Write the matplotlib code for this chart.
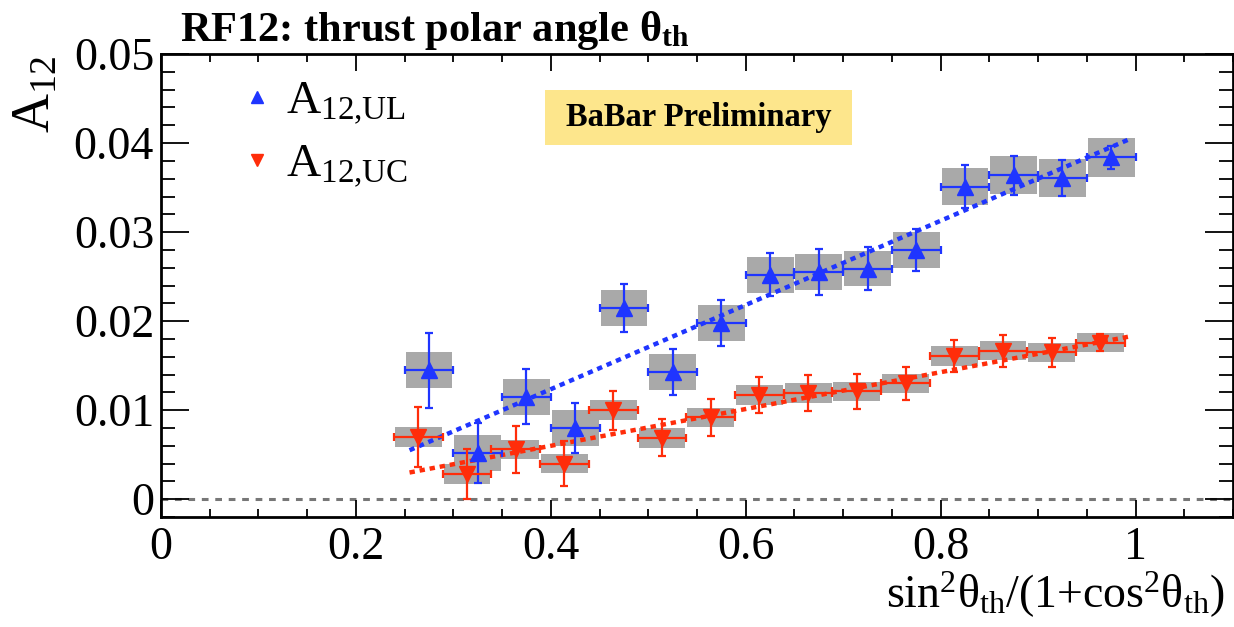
import matplotlib
matplotlib.use("Agg")
import matplotlib.pyplot as plt
from matplotlib.lines import Line2D
from matplotlib.patches import Rectangle
from matplotlib.ticker import MultipleLocator, FuncFormatter

plt.rcParams["font.family"] = ["Liberation Serif", "DejaVu Serif"]
plt.rcParams["mathtext.fontset"] = "custom"
plt.rcParams["mathtext.rm"] = "Liberation Serif"
plt.rcParams["mathtext.it"] = "Liberation Serif:italic"
plt.rcParams["mathtext.bf"] = "Liberation Serif:bold"

# --- data ---
ul_x = [0.275, 0.325, 0.375, 0.425, 0.475, 0.525, 0.575, 0.625,
        0.675, 0.725, 0.775, 0.825, 0.875, 0.925, 0.975]
ul_y = [0.0145, 0.0052, 0.0115, 0.0080, 0.0215, 0.0143, 0.0198, 0.0252,
        0.0255, 0.0259, 0.0280, 0.0351, 0.0364, 0.0361, 0.0384]
ul_stat = [0.0042, 0.0034, 0.0031, 0.0028, 0.0027, 0.0026, 0.0026, 0.0024,
           0.0026, 0.0024, 0.0024, 0.0024, 0.0022, 0.0020, 0.0013]
ul_syst = [0.0020, 0.0020, 0.0020, 0.0020, 0.0020, 0.0020, 0.0020, 0.0020,
           0.0020, 0.0020, 0.0020, 0.0021, 0.0021, 0.0021, 0.0022]

uc_x = [0.264, 0.314, 0.364, 0.414, 0.464, 0.514, 0.564, 0.614,
        0.664, 0.714, 0.764, 0.814, 0.864, 0.914, 0.964]
uc_y = [0.0070, 0.0028, 0.0056, 0.0040, 0.0100, 0.0069, 0.0092, 0.0117,
        0.0119, 0.0121, 0.0130, 0.0161, 0.0167, 0.0165, 0.0176]
uc_stat = [0.0034, 0.0028, 0.0026, 0.0025, 0.0022, 0.0021, 0.0021, 0.0020,
           0.0020, 0.0020, 0.0019, 0.0018, 0.0018, 0.0016, 0.0010]
uc_syst = [0.0011] * 15

bin_half = 0.025

# linear fits (end points)
fit_x = [0.255, 0.995]
fit_ul = [0.0055, 0.0405]
fit_uc = [0.0030, 0.0183]

BLUE = "#1f35ff"
RED = "#ff2d0a"
GREY = "#a9a9a9"

fig = plt.figure(figsize=(12.34, 6.27), dpi=100)
ax = fig.add_axes([0.1305, 0.1754, 0.8687, 0.7384])

# systematic boxes
ax.bar(ul_x, [2 * s for s in ul_syst], width=0.048,
       bottom=[y - s for y, s in zip(ul_y, ul_syst)], color=GREY, zorder=1)
ax.bar(uc_x, [2 * s for s in uc_syst], width=0.048,
       bottom=[y - s for y, s in zip(uc_y, uc_syst)], color=GREY, zorder=1)

ax.axhline(0, color="#777777", lw=2.2, ls=(0, (2.2, 2.2)), zorder=0)

ax.errorbar(ul_x, ul_y, xerr=bin_half, yerr=ul_stat, fmt="^", ms=11,
            color=BLUE, ecolor=BLUE, elinewidth=1.6, capsize=3, capthick=1.6,
            zorder=4)
ax.errorbar(uc_x, uc_y, xerr=bin_half, yerr=uc_stat, fmt="v", ms=11,
            color=RED, ecolor=RED, elinewidth=1.6, capsize=3, capthick=1.6,
            zorder=4)

ax.plot(fit_x, fit_ul, color=BLUE, lw=3.2, ls=(0, (1.2, 1.1)), zorder=3)
ax.plot(fit_x, fit_uc, color=RED, lw=3.2, ls=(0, (1.2, 1.1)), zorder=3)

ax.set_xlim(0, 1.1)
ax.set_ylim(-0.002, 0.05)

ax.xaxis.set_major_locator(MultipleLocator(0.2))
ax.xaxis.set_minor_locator(MultipleLocator(0.05))
ax.yaxis.set_major_locator(MultipleLocator(0.01))
ax.yaxis.set_minor_locator(MultipleLocator(0.002))
ax.xaxis.set_major_formatter(FuncFormatter(lambda v, p: "0" if abs(v) < 1e-9 else f"{v:g}"))
ax.yaxis.set_major_formatter(FuncFormatter(lambda v, p: "0" if abs(v) < 1e-9 else f"{v:.2f}"))

ax.tick_params(axis="both", which="both", direction="in", top=True, right=True,
               width=1.3, labelsize=33)
ax.tick_params(axis="x", which="major", length=12, pad=7)
ax.tick_params(axis="x", which="minor", length=6)
ax.tick_params(axis="y", which="major", length=20, pad=5)
ax.tick_params(axis="y", which="minor", length=10)
for sp in ax.spines.values():
    sp.set_linewidth(2)

# axis titles
fig.text(1224 / 1234, 1 - 608 / 627, "sin$^{2}$θ$_{\\mathrm{th}}$/(1+cos$^{2}$θ$_{\\mathrm{th}}$)",
         ha="right", va="baseline", fontsize=33)
fig.text(36 / 1234, 1 - 56 / 627, "$\\mathrm{A_{12}}$", rotation=90,
         ha="center", va="top", fontsize=39)
fig.text(180 / 1234, 1 - 30 / 627, "RF12: thrust polar angle θ$_{\\mathbf{th}}$",
         ha="left", va="center", fontsize=30.5, fontweight="bold")

# legend
handles = [Line2D([], [], marker="^", ls="none", color=BLUE, ms=9),
           Line2D([], [], marker="v", ls="none", color=RED, ms=9)]
ax.legend(handles, ["$\\mathrm{A_{12{,}UL}}$", "$\\mathrm{A_{12{,}UC}}$"],
          loc="upper left", bbox_to_anchor=(0.054, 0.995), frameon=False,
          fontsize=34, handlelength=0.6, handletextpad=0.32, labelspacing=0.36,
          borderpad=0)

# preliminary label
ax.add_patch(Rectangle((0.358, 0.803), 0.287, 0.119, transform=ax.transAxes,
                       facecolor="#fde68c", edgecolor="none", zorder=5))
ax.text(0.5015, 0.862, "BaBar Preliminary", transform=ax.transAxes,
        ha="center", va="center", fontsize=23.5, fontweight="bold", zorder=6)

fig.savefig("out.png", dpi=100)
